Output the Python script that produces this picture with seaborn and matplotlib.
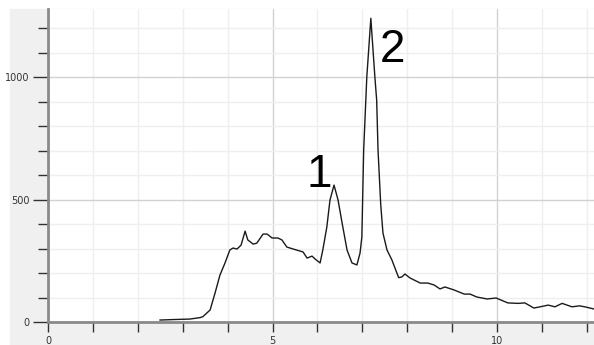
import numpy as np
import pandas as pd
import seaborn as sns
import matplotlib.pyplot as plt
from matplotlib.patches import Rectangle
from matplotlib.ticker import MultipleLocator

# retention time and signal
tempo = [2.49, 2.8, 3.16, 3.39, 3.45, 3.61, 3.72, 3.83, 3.94, 4.05, 4.12, 4.21,
         4.30, 4.39, 4.45, 4.57, 4.65, 4.79, 4.88, 4.99, 5.12, 5.21, 5.32, 5.46,
         5.68, 5.77, 5.88, 5.95, 6.06, 6.12, 6.21, 6.28, 6.37, 6.46, 6.55, 6.66,
         6.77, 6.88, 6.95, 6.99, 7.03, 7.10, 7.19, 7.28, 7.32, 7.35, 7.41, 7.46,
         7.55, 7.66, 7.77, 7.81, 7.88, 7.95, 8.06, 8.29, 8.46, 8.6, 8.73, 8.84,
         9.04, 9.27, 9.4, 9.55, 9.78, 9.98, 10.24, 10.47, 10.62, 10.82, 10.96,
         11.14, 11.29, 11.45, 11.67, 11.84, 11.98, 12.16]
sinal = [8, 10, 12, 18, 22, 49, 118, 192, 240, 294, 302, 298,
         314, 371, 335, 318, 322, 359, 359, 343, 343, 335, 306, 298,
         286, 261, 269, 257, 241, 294, 388, 498, 559, 498, 404, 294,
         241, 233, 282, 347, 700, 1000, 1240, 1000, 906, 702, 480, 363,
         294, 253, 200, 181, 184, 196, 180, 159, 159, 151, 135, 143,
         131, 114, 114, 102, 94, 98, 78, 76, 78, 57, 62,
         69, 62, 76, 62, 66, 61, 53]

picos = ["1", "2"]
picos_x = [6.04, 7.68]
picos_y = [600, 1110]

df = pd.DataFrame({"tempo": tempo, "sinal": sinal})

sns.set_style("white")
fig = plt.figure(figsize=(5.94, 3.45), dpi=100)
fundo = Rectangle((10 / 594, 0), 584 / 594, 336 / 345,
                  transform=fig.transFigure, color="#f0f0f0", zorder=-10)
fig.add_artist(fundo)
ax = fig.add_axes([48 / 594, 23 / 345, 546 / 594, 313 / 345])
ax.set_facecolor("white")
ax.set_zorder(1)

sns.lineplot(data=df, x="tempo", y="sinal", ax=ax, color="#1a1a1a", linewidth=1)

ax.set_xlim(0, 12.16)
ax.set_ylim(0, 1278)
ax.xaxis.set_major_locator(MultipleLocator(5))
ax.xaxis.set_minor_locator(MultipleLocator(1))
ax.yaxis.set_major_locator(MultipleLocator(500))
ax.yaxis.set_minor_locator(MultipleLocator(100))
ax.grid(which="minor", color="#efefef", linewidth=1)
ax.grid(which="major", color="#d2d2d2", linewidth=1)
ax.set_axisbelow(True)

for s in ["top", "right"]:
    ax.spines[s].set_visible(False)
for s in ["left", "bottom"]:
    ax.spines[s].set_color("#8a8a8a")
    ax.spines[s].set_linewidth(2)

ax.tick_params(which="both", bottom=True, left=True, direction="out")
ax.tick_params(axis="y", which="major", length=11, width=1, color="#333333",
               labelsize=7, labelcolor="#333333", pad=2)
ax.tick_params(axis="y", which="minor", length=7, width=1, color="#333333")
ax.tick_params(axis="x", which="both", length=7, width=1, color="#333333",
               labelsize=7, labelcolor="#333333", pad=3)
ax.set_xlabel("")
ax.set_ylabel("")

for lab, px, py in zip(picos, picos_x, picos_y):
    ax.text(px, py, lab, fontsize=33, family="Liberation Sans",
            ha="center", va="center", color="black")

fig.savefig("out.png", dpi=100, facecolor="white")
